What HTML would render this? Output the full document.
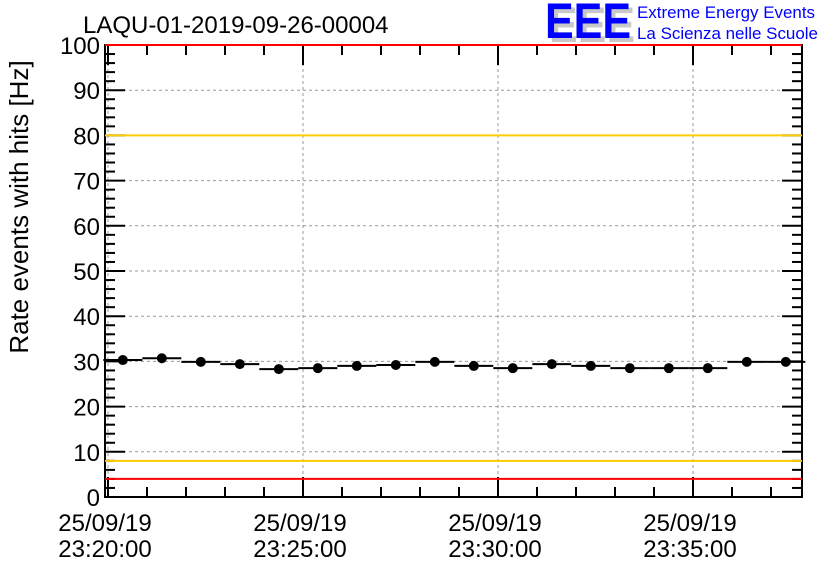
<!DOCTYPE html>
<html><head><meta charset="utf-8"><style>
body{margin:0;background:#fff;}
svg{display:block;font-family:"Liberation Sans",sans-serif;}
</style></head><body>
<svg id="c" width="836" height="572">
<text x="83" y="33" font-size="24">LAQU-01-2019-09-26-00004</text>
<g>
<text x="549" y="42" font-size="50" font-weight="bold" fill="#c8c8c8" textLength="86" lengthAdjust="spacingAndGlyphs">EEE</text>
<text x="545" y="38" font-size="50" font-weight="bold" fill="#0000ff" textLength="86" lengthAdjust="spacingAndGlyphs">EEE</text>
<text x="637" y="18" font-size="16.5" fill="#0000ff" textLength="178" lengthAdjust="spacingAndGlyphs">Extreme Energy Events</text>
<text x="637" y="39" font-size="16.5" fill="#0000ff" textLength="181" lengthAdjust="spacingAndGlyphs">La Scienza nelle Scuole</text>
</g>
<text transform="translate(28,207) rotate(-90)" text-anchor="middle" font-size="26">Rate events with hits [Hz]</text>
<g id="grid"></g><g id="axes"></g><g id="marks"></g>
</svg>
<script>
const yTicks=[0,10,20,30,40,50,60,70,80,90,100];
const xTickLabels=[["25/09/19","23:20:00"],["25/09/19","23:25:00"],["25/09/19","23:30:00"],["25/09/19","23:35:00"]];
const xTickMinutes=[0,5,10,15];
const pointMinutes=[0.38,1.38,2.38,3.38,4.38,5.38,6.38,7.38,8.38,9.38,10.38,11.38,12.38,13.38,14.38,15.38,16.38,17.38];
const rates=[30.3,30.7,29.9,29.4,28.3,28.5,29.0,29.2,29.9,29.0,28.5,29.4,29.0,28.5,28.5,28.5,29.9,29.9];
const redLimits=[4,100];
const yellowLimits=[8,80];
const L=105,R=802,T=45,B=497;
const X=m=>108+m*39, Y=v=>B-(v/100)*(B-T);
const ns="http://www.w3.org/2000/svg";
function mk(p,t,a){const e=document.createElementNS(ns,t);for(const k in a)e.setAttribute(k,a[k]);document.getElementById(p).appendChild(e);return e;}
yTicks.forEach(v=>{if(v>0&&v<100){const g=mk('grid','line',{x1:L,x2:R,y1:Y(v),y2:Y(v),stroke:'#999','stroke-dasharray':'3,3'});}});
xTickMinutes.forEach(m=>{const g=mk('grid','line',{x1:X(m),x2:X(m),y1:T,y2:B,stroke:'#999','stroke-dasharray':'3,3'});});
const fr=mk('axes','rect',{x:L,y:T,width:R-L,height:B-T,fill:'none',stroke:'#000','stroke-width':2});

for(let v=0;v<=100;v+=2){const len=v%10==0?20:10;const y=Y(v);
 mk('axes','line',{x1:L,x2:L+len,y1:y,y2:y,stroke:'#000','stroke-width':2});
 mk('axes','line',{x1:R,x2:R-len,y1:y,y2:y,stroke:'#000','stroke-width':2});}
yTicks.forEach(v=>{const t=mk('axes','text',{x:L-5,y:Y(v)+9,'text-anchor':'end','font-size':24});t.textContent=v;});
for(let m=0;m<=17;m++){const x=X(m);if(x>R)break;const len=m%5==0?20:10;
 mk('axes','line',{x1:x,x2:x,y1:B,y2:B-len,stroke:'#000','stroke-width':2});
 mk('axes','line',{x1:x,x2:x,y1:T,y2:T+len,stroke:'#000','stroke-width':2});}
xTickMinutes.forEach((m,i)=>{[0,1].forEach(j=>{const t=mk('axes','text',{x:X(m)-3,y:531+j*26,'text-anchor':'middle','font-size':24});t.textContent=xTickLabels[i][j];});});
redLimits.forEach(v=>{const l=mk('marks','line',{x1:L,x2:R,y1:Y(v),y2:Y(v),stroke:'#f00','stroke-width':2});});
yellowLimits.forEach(v=>{const l=mk('marks','line',{x1:L,x2:R,y1:Y(v),y2:Y(v),stroke:'#fc0','stroke-width':2});});
rates.forEach((v,i)=>{const x=X(pointMinutes[i]),y=Y(v);
 const b=mk('marks','line',{x1:x-19.5,x2:x+19.5,y1:y,y2:y,stroke:'#000','stroke-width':2});
 
 const c=mk('marks','circle',{cx:x,cy:y,r:5,fill:'#000'});
 });
</script>
</body></html>
